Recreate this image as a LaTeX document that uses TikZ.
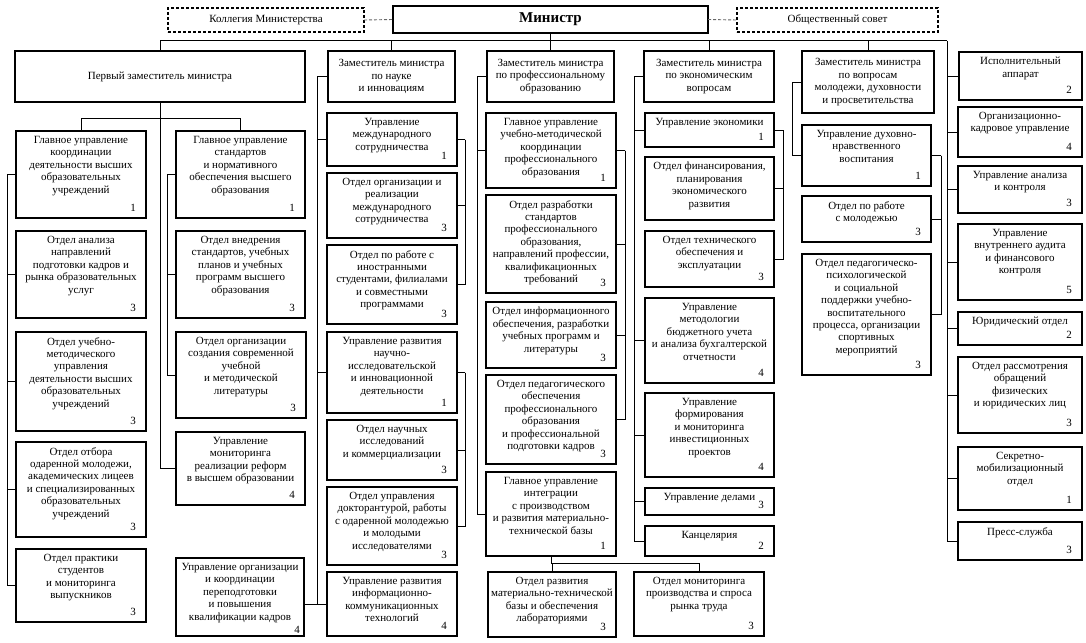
\documentclass[tikz,border=0pt]{standalone}
\usepackage{fontspec}
\setmainfont{Liberation Serif}
\newcommand\mybox[8][]{%
 \pgfmathsetmacro\myW{#5-#3}\pgfmathsetmacro\myH{#6-#4}%
 \pgfmathsetmacro\myX{(#3+#5)/2}\pgfmathsetmacro\myY{(#4+#6)/2}%
 \node[bx, minimum width=\myW pt, minimum height=\myH pt] (#2) at (\myX,\myY) {};%
 \node[txt, anchor=north] (#2t) at ([yshift=-5pt]#2.north) {#7};%
 \node[num, anchor=base east, #1] (#2n) at ([xshift=-10pt,yshift=7pt]#2.south east) {#8};%
}
\newcommand\myhead[7][bx]{%
 \pgfmathsetmacro\myW{#5-#3}\pgfmathsetmacro\myH{#6-#4}%
 \pgfmathsetmacro\myX{(#3+#5)/2}\pgfmathsetmacro\myY{(#4+#6)/2}%
 \node[#1, txt, minimum width=\myW pt, minimum height=\myH pt] (#2) at (\myX,\myY) {#7};%
}
\begin{document}
\begin{tikzpicture}[x=1pt,y=-1pt,
 bx/.style={draw, line width=1.2pt, inner sep=0pt, outer sep=0pt},
 dbx/.style={draw, line width=1.1pt, dash pattern=on 3pt off 2pt, inner sep=0pt, outer sep=0pt},
 mbx/.style={draw, line width=1.5pt, inner sep=0pt, outer sep=0pt},
 txt/.style={align=center, inner sep=0pt, font=\fontsize{11}{12.4}\selectfont},
 num/.style={inner sep=0pt, font=\fontsize{11}{12}\selectfont},
 ln/.style={line width=1pt},
 dsh/.style={line width=0.9pt, black!60, dash pattern=on 3pt off 2pt}]
\fill[white] (0,0) rectangle (1086,642);
\useasboundingbox (0,0) rectangle (1086,642);
% top
\myhead[dbx]{kol}{168}{8}{364}{32}{Коллегия Министерства}
\myhead[mbx]{min}{393}{6}{708}{33}{\fontsize{15}{16}\selectfont\bfseries Министр}
\myhead[dbx]{obs}{737}{8}{938}{32}{Общественный совет}
\myhead{fz}{15}{51}{305}{102}{Первый заместитель министра}
\myhead{sci}{328}{51}{455}{102}{Заместитель министра\\по науке\\и инновациям}
\myhead{prof}{487}{51}{614}{102}{Заместитель министра\\по профессиональному\\образованию}
\myhead{econ}{644}{51}{774}{102}{Заместитель министра\\по экономическим\\вопросам}
\myhead{youth}{802}{51}{934}{113}{Заместитель министра\\по вопросам\\молодежи, духовности\\и просветительства}
% column 1
\mybox{c1b1}{16}{131}{146}{218}{Главное управление\\координации\\деятельности высших\\образовательных\\учреждений}{1}
\mybox{c1b2}{16}{231}{146}{318}{Отдел анализа\\направлений\\подготовки кадров и\\рынка образовательных\\услуг}{3}
\mybox{c1b3}{16}{332}{146}{431}{Отдел учебно-\\методического\\управления\\деятельности высших\\образовательных\\учреждений}{3}
\mybox{c1b4}{16}{442}{146}{537}{Отдел отбора\\одаренной молодежи,\\академических лицеев\\и специализированных\\образовательных\\учреждений}{3}
\mybox{c1b5}{16}{549}{146}{622}{Отдел практики\\студентов\\и мониторинга\\выпускников}{3}
% column 2
\mybox{c2b1}{176}{131}{305}{218}{Главное управление\\стандартов\\и нормативного\\обеспечения высшего\\образования}{1}
\mybox{c2b2}{176}{231}{305}{318}{Отдел внедрения\\стандартов, учебных\\планов и учебных\\программ высшего\\образования}{3}
\mybox{c2b3}{176}{332}{306}{418}{Отдел организации\\создания современной\\учебной\\и методической\\литературы}{3}
\mybox{c2b4}{176}{432}{305}{505}{Управление\\мониторинга\\реализации реформ\\в высшем образовании}{4}
\mybox[xshift=6pt,yshift=-4pt]{c2b5}{176}{558}{304}{636}{Управление организации\\и координации\\переподготовки\\и повышения\\квалификации кадров}{4}
% science
\mybox{s1}{327}{113}{457}{166}{Управление\\международного\\сотрудничества}{1}
\mybox{s2}{327}{173}{457}{238}{Отдел организации и\\реализации\\международного\\сотрудничества}{3}
\mybox{s3}{327}{245}{457}{324}{Отдел по работе с\\иностранными\\студентами, филиалами\\и совместными\\программами}{3}
\mybox{s4}{327}{332}{457}{413}{Управление развития\\научно-\\исследовательской\\и инновационной\\деятельности}{1}
\mybox{s5}{327}{420}{457}{480}{Отдел научных\\исследований\\и коммерциализации}{3}
\mybox{s6}{327}{487}{457}{565}{Отдел управления\\докторантурой, работы\\с одаренной молодежью\\и молодыми\\исследователями}{3}
\mybox{s7}{327}{572}{457}{636}{Управление развития\\информационно-\\коммуникационных\\технологий}{4}
% professional
\mybox{p1}{486}{113}{616}{188}{Главное управление\\учебно-методической\\координации\\профессионального\\образования}{1}
\mybox{p2}{486}{195}{616}{293}{Отдел разработки\\стандартов\\профессионального\\образования,\\направлений профессии,\\квалификационных\\требований}{3}
\mybox{p3}{486}{302}{616}{368}{Отдел информационного\\обеспечения, разработки\\учебных программ и\\литературы}{3}
\mybox{p4}{486}{375}{616}{464}{Отдел педагогического\\обеспечения\\профессионального\\образования\\и профессиональной\\подготовки кадров}{3}
\mybox{p5}{486}{472}{616}{556}{Главное управление\\интеграции\\с производством\\и развития материально-\\технической базы}{1}
\mybox{p6}{488}{572}{616}{637}{Отдел развития\\материально-технической\\базы и обеспечения\\лабораториями}{3}
\mybox{p7}{634}{572}{764}{636}{Отдел мониторинга\\производства и спроса\\рынка труда}{3}
% economics
\mybox{e1}{645}{113}{774}{147}{Управление экономики}{1}
\mybox{e2}{645}{157}{774}{220}{Отдел финансирования,\\планирования\\экономического\\развития}{}
\mybox{e3}{645}{231}{774}{287}{Отдел технического\\обеспечения и\\эксплуатации}{3}
\mybox{e4}{645}{298}{774}{383}{Управление\\методологии\\бюджетного учета\\и анализа бухгалтерской\\отчетности}{4}
\mybox{e5}{645}{393}{774}{477}{Управление\\формирования\\и мониторинга\\инвестиционных\\проектов}{4}
\mybox{e6}{645}{488}{774}{515}{Управление делами}{3}
\mybox{e7}{645}{526}{774}{556}{Канцелярия}{2}
% youth
\mybox{y1}{802}{125}{931}{186}{Управление духовно-\\нравственного\\воспитания}{1}
\mybox{y2}{802}{196}{931}{242}{Отдел по работе\\с молодежью}{3}
\mybox{y3}{802}{254}{931}{375}{Отдел педагогическо-\\психологической\\и социальной\\поддержки учебно-\\воспитательного\\процесса, организации\\спортивных\\мероприятий}{3}
% right column
\mybox{r1}{959}{52}{1082}{100}{Исполнительный\\аппарат}{2}
\mybox{r2}{958}{107}{1082}{157}{Организационно-\\кадровое управление}{4}
\mybox{r3}{958}{166}{1082}{213}{Управление анализа\\и контроля}{3}
\mybox{r4}{958}{224}{1082}{300}{Управление\\внутреннего аудита\\и финансового\\контроля}{5}
\mybox{r5}{958}{312}{1082}{345}{Юридический отдел}{2}
\mybox{r6}{958}{357}{1082}{433}{Отдел рассмотрения\\обращений\\физических\\и юридических лиц}{3}
\mybox{r7}{958}{447}{1082}{510}{Секретно-\\мобилизационный\\отдел}{1}
\mybox{r8}{958}{522}{1082}{560}{Пресс-служба}{3}
% connectors: top
\draw[dsh] (kol.east) -- (min.west);
\draw[dsh] (min.east) -- (obs.west);
\coordinate (bR) at (947,41);
\draw[ln] (fz.north) |- (bR);
\draw[ln] (min.south) -- (prof.north);
\draw[ln] (sci.north) -- (sci.north |- bR);
\draw[ln] (econ.north) -- (econ.north |- bR);
\draw[ln] (youth.north) -- (youth.north |- bR);
\draw[ln] (bR) |- (r8.west);
\foreach \k in {r1,r2,r3,r4,r5,r6,r7} \draw[ln] (bR |- \k.west) -- (\k.west);
% first deputy
\draw[ln] (c1b1.north) -- ++(0,-13) -| (c2b1.north);
\draw[ln] (fz.south) |- (c2b4.west);
\draw[ln] (c1b1.west) -- ++(-9,0) coordinate (c1L);
\foreach \k in {c1b2,c1b3,c1b4,c1b5} \draw[ln] (c1L) |- (\k.west);
\draw[ln] (c2b1.west) -- ++(-9,0) coordinate (c2L);
\foreach \k in {c2b2,c2b3} \draw[ln] (c2L) |- (\k.west);
% science
\draw[ln] (sci.west) -- ++(-11,0) coordinate (sL);
\foreach \k in {s1,s4,s7} \draw[ln] (sL) |- (\k.west);
\draw[ln] (sL |- s7.west) -- (c2b5.east |- s7.west);
\draw[ln] (s1.east) -- ++(8,0) coordinate (sR1);
\foreach \k in {s2,s3} \draw[ln] (sR1) |- (\k.east);
\draw[ln] (s4.east) -- ++(8,0) coordinate (sR2);
\foreach \k in {s5,s6} \draw[ln] (sR2) |- (\k.east);
% professional
\draw[ln] (prof.west) -- ++(-10,0) coordinate (pL);
\foreach \k in {p1,p5} \draw[ln] (pL) |- (\k.west);
\draw[ln] (p1.east) -- ++(9,0) coordinate (pR);
\foreach \k in {p2,p3,p4} \draw[ln] (pR) |- (\k.east);
\draw[ln] (p5.south) -- ++(0,7) coordinate (pB) -- (pB -| p6.north) -- (p6.north);
\draw[ln] (pB) -| (p7.north);
% economics
\draw[ln] (econ.west) -- ++(-10,0) coordinate (eL);
\foreach \k in {e1,e4,e5,e6,e7} \draw[ln] (eL) |- (\k.west);
\draw[ln] (e1.east) -- ++(9,0) coordinate (eR);
\foreach \k in {e2,e3} \draw[ln] (eR) |- (\k.east);
% youth
\draw[ln] (youth.west) -- ++(-10,0) coordinate (yL);
\draw[ln] (yL) |- (y1.west);
\draw[ln] (y1.east) -- ++(10,0) coordinate (yR);
\foreach \k in {y2,y3} \draw[ln] (yR) |- (\k.east);
\end{tikzpicture}
\end{document}
